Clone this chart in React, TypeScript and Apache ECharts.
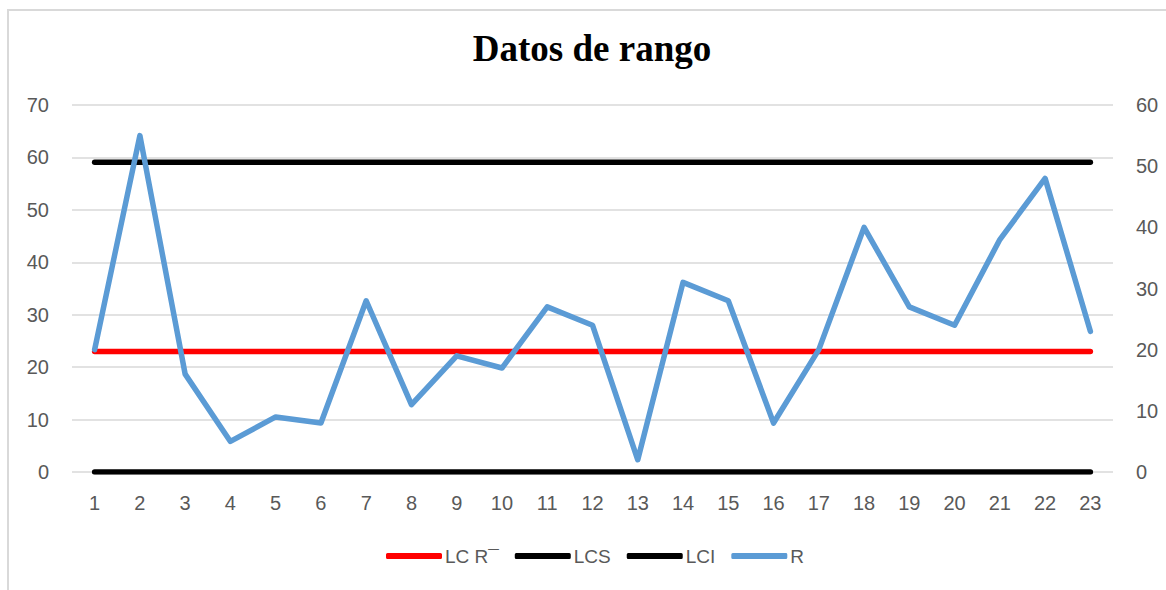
import React, { useEffect, useRef } from "react";
import * as echarts from "echarts";

const categories = ["1","2","3","4","5","6","7","8","9","10","11","12","13","14","15","16","17","18","19","20","21","22","23"];
const rValues = [20, 55, 16, 5, 9, 8, 28, 11, 19, 17, 27, 24, 2, 31, 28, 8, 20, 40, 27, 24, 38, 48, 23];
const lcR = [22.96,22.96,22.96,22.96,22.96,22.96,22.96,22.96,22.96,22.96,22.96,22.96,22.96,22.96,22.96,22.96,22.96,22.96,22.96,22.96,22.96,22.96,22.96];
const lcs = [59.09,59.09,59.09,59.09,59.09,59.09,59.09,59.09,59.09,59.09,59.09,59.09,59.09,59.09,59.09,59.09,59.09,59.09,59.09,59.09,59.09,59.09,59.09];
const lci = [0,0,0,0,0,0,0,0,0,0,0,0,0,0,0,0,0,0,0,0,0,0,0];
const seriesNames = ["LC R\u00AF", "LCS", "LCI", "R"];
const titleText = "Datos de rango";

const labelFont = "'Liberation Sans', Arial, sans-serif";

export default function App() {
  const ref = useRef<HTMLDivElement>(null);
  useEffect(() => {
    if (!ref.current) return;
    const chart = echarts.init(ref.current, null, { renderer: "svg" });
    const lineBase = (color: string) => ({
      type: "line" as const,
      showSymbol: false,
      symbol: "none",
      lineStyle: { color, width: 5.5, cap: "round" as const, join: "round" as const },
      itemStyle: { color },
      emphasis: { disabled: true },
    });
    chart.setOption({
      animation: false,
      backgroundColor: "#ffffff",
      title: {
        text: titleText,
        left: 592,
        top: 30,
        padding: 0,
        textAlign: "center",
        textStyle: {
          fontFamily: "'Liberation Serif', 'Times New Roman', serif",
          fontWeight: "bold",
          fontSize: 37,
          color: "#000000",
          lineHeight: 37,
        },
      },
      graphic: [
        {
          type: "rect",
          shape: { x: 8, y: 10, width: 1200, height: 600 },
          style: { fill: "none", stroke: "#d9d9d9", lineWidth: 2 },
          silent: true,
        },
      ],
      legend: {
        data: seriesNames,
        left: 386,
        top: 546,
        padding: 0,
        icon: "roundRect",
        itemWidth: 56,
        itemHeight: 6,
        itemGap: 16,
        textStyle: { fontFamily: labelFont, fontSize: 19, color: "#595959", lineHeight: 20, padding: [0, 0, 0, -2] },
      },
      grid: { left: 72, right: 53, top: 105, bottom: 118, containLabel: false },
      xAxis: {
        type: "category",
        data: categories,
        boundaryGap: true,
        axisLine: { show: false },
        axisTick: { show: false },
        axisLabel: { fontFamily: labelFont, fontSize: 20, color: "#595959", margin: 21 },
      },
      yAxis: [
        {
          type: "value",
          min: 0,
          max: 70,
          interval: 10,
          axisLine: { show: false },
          axisTick: { show: false },
          splitLine: { lineStyle: { color: "#d9d9d9", width: 1.5 } },
          axisLabel: { fontFamily: labelFont, fontSize: 20, color: "#595959", margin: 23 },
        },
        {
          type: "value",
          min: 0,
          max: 60,
          interval: 10,
          position: "right",
          axisLine: { show: false },
          axisTick: { show: false },
          splitLine: { show: false },
          axisLabel: { fontFamily: labelFont, fontSize: 20, color: "#595959", margin: 23 },
        },
      ],
      series: [
        { ...lineBase("#ff0000"), name: seriesNames[0], data: lcR, yAxisIndex: 0 },
        { ...lineBase("#000000"), name: seriesNames[1], data: lcs, yAxisIndex: 0 },
        { ...lineBase("#000000"), name: seriesNames[2], data: lci, yAxisIndex: 0 },
        { ...lineBase("#5b9bd5"), name: seriesNames[3], data: rValues, yAxisIndex: 1 },
      ],
    });
    return () => chart.dispose();
  }, []);
  return (
    <div
      ref={ref}
      style={{ position: "absolute", left: 0, top: 0, width: 1166, height: 590 }}
    />
  );
}
